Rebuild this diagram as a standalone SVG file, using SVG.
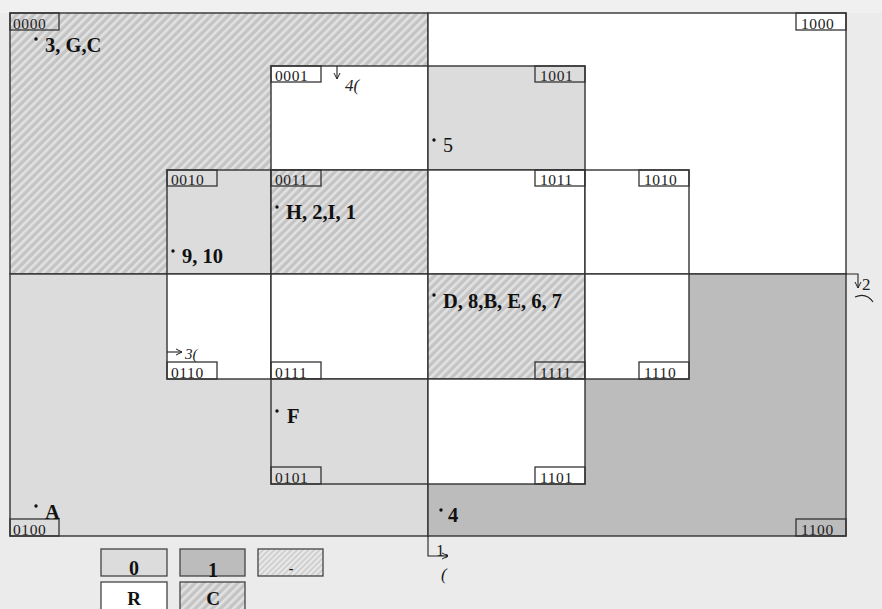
<svg xmlns="http://www.w3.org/2000/svg" width="882" height="609" viewBox="0 0 882 609">
<defs>
<pattern id="hatch" width="6" height="6" patternUnits="userSpaceOnUse" patternTransform="rotate(45)">
<rect width="6" height="6" fill="#c4c4c4"/>
<rect width="2.6" height="6" fill="#e2e2e2"/>
</pattern>
<pattern id="hatch2" width="4" height="4" patternUnits="userSpaceOnUse" patternTransform="rotate(45)">
<rect width="4" height="4" fill="#d0d0d0"/>
<rect width="1.8" height="4" fill="#ececec"/>
</pattern>
<marker id="ah" markerWidth="8" markerHeight="8" refX="7" refY="4" orient="auto" markerUnits="userSpaceOnUse">
<path d="M1,1 L7,4 L1,7" fill="none" stroke="#222" stroke-width="1"/>
</marker>
</defs>
<style>
.cell{stroke:#333;stroke-width:1.4}
.w{fill:#ffffff}
.l{fill:#dcdcdc}
.d{fill:#bcbcbc}
.h{fill:url(#hatch)}
.lab rect{fill:none;stroke:#333;stroke-width:1.3}
.lab text{font-family:"Liberation Serif",serif;font-size:15.5px;fill:#222;letter-spacing:0.6px}
.pt{font-family:"Liberation Serif",serif;font-size:20.5px;font-weight:bold;fill:#111}
.pr{font-family:"Liberation Serif",serif;font-size:20px;fill:#111}
.dot{fill:#111}
.conn{fill:none;stroke:#222;stroke-width:1.1}
.mk{font-family:"Liberation Serif",serif;font-size:17px;fill:#222}
.leg rect{stroke:#444;stroke-width:1.3}
.leg text{font-family:"Liberation Serif",serif;font-size:20px;font-weight:bold;fill:#111;text-anchor:middle}
</style>
<rect width="882" height="609" fill="#ebebeb"/>
<rect width="882" height="13" fill="#f0f0f0"/>

<g id="q0000"><rect class="cell h" x="10" y="13" width="418" height="261"/></g>
<g id="q1000"><rect class="cell w" x="428" y="13" width="418" height="261"/></g>
<g id="q0100"><rect class="cell l" x="10" y="274" width="418" height="262"/></g>
<g id="q1100"><rect class="cell d" x="428" y="274" width="418" height="262"/></g>

<g id="c0001"><rect class="cell w" x="271" y="66" width="157" height="104"/></g>
<g id="c1001"><rect class="cell l" x="428" y="66" width="157" height="104"/></g>
<g id="c0010"><rect class="cell l" x="167" y="170" width="104" height="104"/></g>
<g id="c0011"><rect class="cell h" x="271" y="170" width="157" height="104"/></g>
<g id="c1011"><rect class="cell w" x="428" y="170" width="157" height="104"/></g>
<g id="c1010"><rect class="cell w" x="585" y="170" width="104" height="104"/></g>
<g id="c0110"><rect class="cell w" x="167" y="274" width="104" height="105"/></g>
<g id="c0111"><rect class="cell w" x="271" y="274" width="157" height="105"/></g>
<g id="c1111"><rect class="cell h" x="428" y="274" width="157" height="105"/></g>
<g id="c1110"><rect class="cell w" x="585" y="274" width="104" height="105"/></g>
<g id="c0101"><rect class="cell l" x="271" y="379" width="157" height="105"/></g>
<g id="c1101"><rect class="cell w" x="428" y="379" width="157" height="105"/></g>

<g id="labels" class="lab">
<g id="l0000"><rect x="10" y="13" width="49" height="17"/><text x="13" y="29">0000</text></g>
<g id="l1000"><rect x="796" y="13" width="50" height="17"/><text x="801" y="29">1000</text></g>
<g id="l0001"><rect x="271" y="66" width="50" height="16"/><text x="275" y="81">0001</text></g>
<g id="l1001"><rect x="535" y="66" width="50" height="16"/><text x="540" y="81">1001</text></g>
<g id="l0010"><rect x="167" y="170" width="50" height="16"/><text x="171" y="185">0010</text></g>
<g id="l0011"><rect x="271" y="170" width="50" height="16"/><text x="275" y="185">0011</text></g>
<g id="l1011"><rect x="535" y="170" width="50" height="16"/><text x="540" y="185">1011</text></g>
<g id="l1010"><rect x="639" y="170" width="50" height="16"/><text x="644" y="185">1010</text></g>
<g id="l0110"><rect x="167" y="362" width="50" height="17"/><text x="171" y="378">0110</text></g>
<g id="l0111"><rect x="271" y="362" width="50" height="17"/><text x="275" y="378">0111</text></g>
<g id="l1111"><rect x="535" y="362" width="50" height="17"/><text x="540" y="378">1111</text></g>
<g id="l1110"><rect x="639" y="362" width="50" height="17"/><text x="644" y="378">1110</text></g>
<g id="l0101"><rect x="271" y="467" width="50" height="17"/><text x="275" y="483">0101</text></g>
<g id="l1101"><rect x="535" y="467" width="50" height="17"/><text x="540" y="483">1101</text></g>
<g id="l0100"><rect x="10" y="519" width="49" height="17"/><text x="13" y="535">0100</text></g>
<g id="l1100"><rect x="796" y="519" width="50" height="17"/><text x="801" y="535">1100</text></g>
</g>

<g id="points">
<circle class="dot" cx="36" cy="39" r="1.7"/><text class="pt" x="45" y="52">3, G,C</text>
<circle class="dot" cx="434" cy="140" r="1.7"/><text class="pr" x="443" y="152">5</text>
<circle class="dot" cx="277" cy="207" r="1.7"/><text class="pt" x="286" y="219">H, 2,I, 1</text>
<circle class="dot" cx="173" cy="251" r="1.7"/><text class="pt" x="182" y="263">9, 10</text>
<circle class="dot" cx="434" cy="295" r="1.7"/><text class="pt" x="443" y="308">D, 8,B, E, 6, 7</text>
<circle class="dot" cx="277" cy="411" r="1.7"/><text class="pt" x="287" y="423">F</text>
<circle class="dot" cx="36" cy="506" r="1.7"/><text class="pt" x="45" y="519">A</text>
<circle class="dot" cx="441" cy="510" r="1.7"/><text class="pt" x="448" y="522">4</text>
</g>

<g id="connectors">
<path class="conn" d="M337,66 V79" marker-end="url(#ah)"/>
<path class="conn" d="M167,352 H182" marker-end="url(#ah)"/>
<path class="conn" d="M846,274 H858 V288" marker-end="url(#ah)"/>
<path class="conn" d="M428,536 V556 H448" marker-end="url(#ah)"/>
<path class="conn" d="M855,297 Q866,292 873,302"/>
</g>
<g id="markers-text">
<text class="mk" x="345" y="91" font-style="italic">4(</text>
<text class="mk" x="185" y="359" font-style="italic" style="font-size:15px">3(</text>
<text class="mk" x="862" y="290">2</text>
<text class="mk" x="436" y="556">1,</text>
<text class="mk" x="441" y="580" font-style="italic">(</text>
</g>

<g id="legend" class="leg">
<g id="leg0"><rect x="101" y="549" width="66" height="27" fill="#dcdcdc"/><text x="134" y="575">0</text></g>
<g id="leg1"><rect x="180" y="549" width="65" height="27" fill="#bcbcbc"/><text x="213" y="577">1</text></g>
<g id="legdash"><rect x="258" y="549" width="65" height="27" fill="url(#hatch2)"/><text x="291" y="573" style="font-size:14px">-</text></g>
<g id="legR"><rect x="101" y="582" width="66" height="30" fill="#ffffff"/><text x="134" y="605" style="font-size:19px">R</text></g>
<g id="legC"><rect x="180" y="582" width="65" height="30" fill="url(#hatch)"/><text x="213" y="605" style="font-size:19px">C</text></g>
</g>
</svg>
